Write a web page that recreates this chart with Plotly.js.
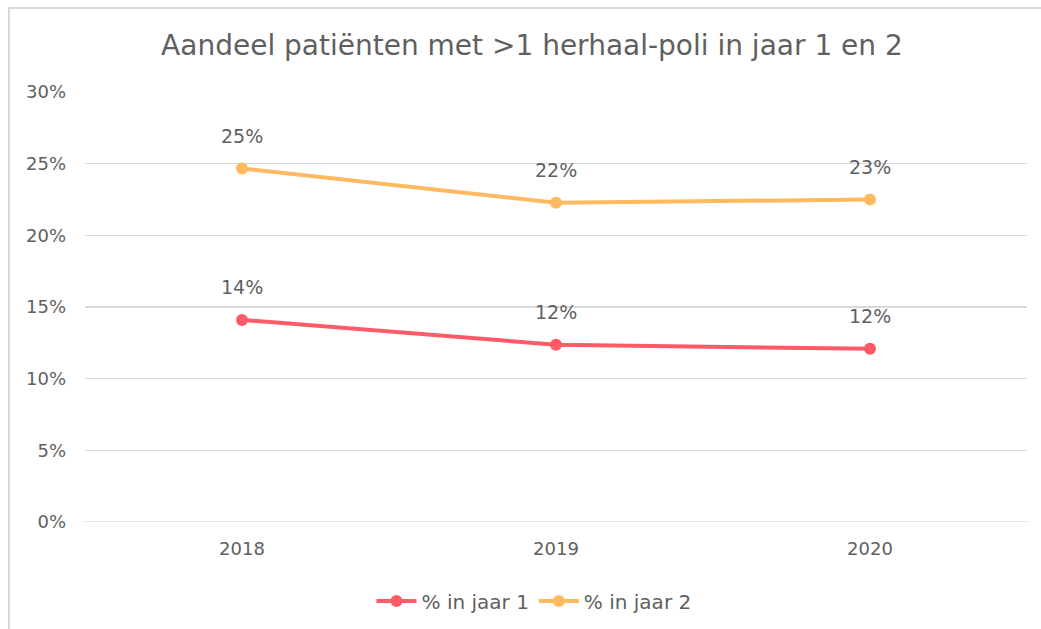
<!DOCTYPE html>
<html>
<head>
<meta charset="utf-8">
<script src="https://cdn.plot.ly/plotly-3.0.1.min.js"></script>
<style>
  html, body { margin: 0; padding: 0; background: #ffffff; overflow: hidden; }
  #frame { position: absolute; left: 8px; top: 7px; width: 1100px; height: 700px;
           border-left: 2px solid #D9D9D9; border-top: 2px solid #D9D9D9; }
  #chart { position: absolute; left: 0; top: 0; width: 1041px; height: 629px; }
</style>
</head>
<body>
<div id="frame"></div>
<div id="chart"></div>
<script>
const years = ["2018", "2019", "2020"];
const jaar1 = [0.1410, 0.1237, 0.1208];
const jaar2 = [0.2466, 0.2227, 0.2250];
const jaar1Labels = ["14%", "12%", "12%"];
const jaar2Labels = ["25%", "22%", "23%"];
const yTickVals = [0, 0.05, 0.10, 0.15, 0.20, 0.25, 0.30];
const yTickText = ["0%", "5%", "10%", "15%", "20%", "25%", "30%"];

const fontFam = "DejaVu Sans, sans-serif";
const textColor = "#5f5f5f";

const traces = [
  {
    x: years, y: jaar1, name: "% in jaar 1", type: "scatter", mode: "lines+markers",
    line: { color: "#FF5A67", width: 4 },
    marker: { color: "#FF5A67", size: 12 },
    cliponaxis: false, hoverinfo: "skip"
  },
  {
    x: years, y: jaar2, name: "% in jaar 2", type: "scatter", mode: "lines+markers",
    line: { color: "#FFB95E", width: 4 },
    marker: { color: "#FFB95E", size: 12 },
    cliponaxis: false, hoverinfo: "skip"
  }
];

const annotations = [];
const seriesList = [[jaar1, jaar1Labels], [jaar2, jaar2Labels]];
for (let s = 0; s < seriesList.length; s++) {
  const vals = seriesList[s][0];
  const labels = seriesList[s][1];
  for (let i = 0; i < vals.length; i++) {
    annotations.push({
      x: i, y: vals[i], xref: "x", yref: "y", text: labels[i],
      showarrow: false, yshift: 33, yanchor: "middle", xanchor: "center",
      font: { family: fontFam, size: 19, color: textColor }
    });
  }
}

const layout = {
  width: 1041, height: 629,
  margin: { l: 85, r: 14, t: 92, b: 107 },
  paper_bgcolor: "rgba(0,0,0,0)",
  plot_bgcolor: "rgba(0,0,0,0)",
  font: { family: fontFam, color: textColor },
  title: {
    text: "Aandeel patiënten met >1 herhaal-poli in jaar 1 en 2",
    font: { family: fontFam, size: 28, color: textColor },
    x: 0.511, xanchor: "center", xref: "container",
    y: 1 - 45 / 629, yanchor: "middle", yref: "container"
  },
  xaxis: {
    type: "category", range: [-0.5, 2.5],
    showgrid: false, zeroline: false, showline: false,
    ticks: "", ticklabelstandoff: 14,
    tickfont: { family: fontFam, size: 18, color: textColor },
    fixedrange: true
  },
  yaxis: {
    range: [0, 0.30], tickvals: yTickVals, ticktext: yTickText,
    showgrid: true, gridcolor: "#D9D9D9", gridwidth: 1.5,
    zeroline: false, showline: false, ticks: "", ticklabelstandoff: 18,
    tickfont: { family: fontFam, size: 18, color: textColor },
    fixedrange: true
  },
  showlegend: true,
  legend: {
    orientation: "h", x: 0.513, xanchor: "center", xref: "container",
    y: 1 - 601 / 629, yanchor: "middle", yref: "container",
    font: { family: fontFam, size: 20, color: textColor },
    itemwidth: 40, tracegroupgap: 0
  },
  annotations: annotations,
  shapes: [
    { type: "line", xref: "paper", yref: "y", x0: 0, x1: 1, y0: 0, y1: 0,
      line: { color: "#D9D9D9", width: 1.5 }, layer: "below" }
  ]
};

Plotly.newPlot("chart", traces, layout, { displayModeBar: false, staticPlot: true });
</script>
</body>
</html>
